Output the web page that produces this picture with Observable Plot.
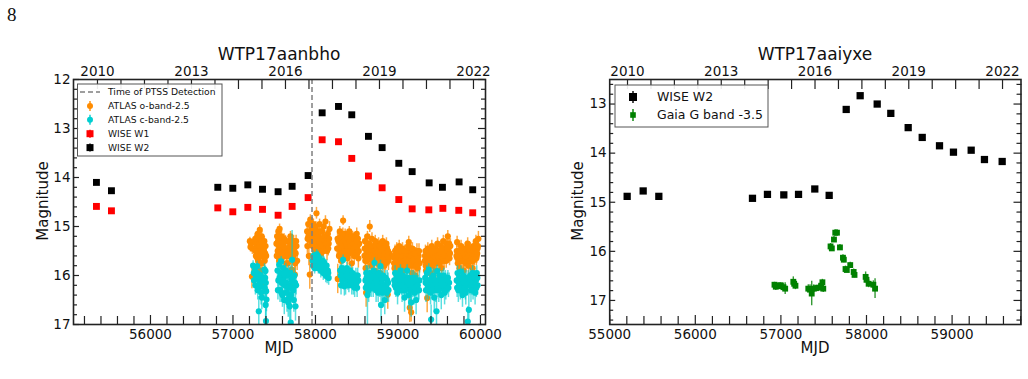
<!DOCTYPE html>
<html><head><meta charset="utf-8">
<script src="https://cdn.jsdelivr.net/npm/d3@7"></script>
<script src="https://cdn.jsdelivr.net/npm/@observablehq/plot@0.6"></script>
<style>
body{margin:0;background:#fff;}
#wrap{display:flex;width:1028px;height:379px;overflow:hidden;}
#wrap svg{overflow:visible;display:block;}
</style></head><body><div id="wrap"></div>
<script>
// ---------------- DATA ----------------
// Left panel: WTP17aanbho   [MJD, magnitude, error]
const ptssDetection = [57958];
const wiseW1L = [[55345,14.59],[55527,14.68],[56816,14.62],[56998,14.70],[57180,14.61],[57358,14.65],[57547,14.77],[57717,14.59],[57911,14.41],[58081,13.23],[58279,13.27],[58440,13.61],[58642,13.97],[58808,14.21],[59010,14.45],[59172,14.64],[59374,14.66],[59544,14.63],[59737,14.67],[59906,14.72]];
const wiseW2L = [[55345,14.10],[55527,14.27],[56816,14.20],[56998,14.22],[57180,14.15],[57358,14.24],[57547,14.29],[57717,14.18],[57911,13.96],[58081,12.68],[58279,12.55],[58440,12.72],[58642,13.16],[58808,13.39],[59010,13.71],[59172,13.88],[59378,14.11],[59539,14.20],[59741,14.09],[59906,14.25]];
const atlasO = [
[57205,15.30,0.08],[57212,15.42,0.10],[57220,15.35,0.08],[57230,16.02,0.25],[57235,15.45,0.12],
[57262,15.45,0.15],[57270,15.25,0.1],[57278,15.6,0.15],[57285,15.35,0.1],[57292,15.5,0.12],[57300,15.15,0.1],[57306,15.7,0.2],[57312,15.4,0.1],[57318,15.55,0.12],[57325,15.07,0.1],[57330,15.3,0.1],[57336,15.9,0.25],[57342,15.45,0.12],[57348,15.2,0.1],[57355,15.6,0.15],[57362,16.2,0.3],[57368,15.35,0.1],[57375,15.5,0.15],[57385,15.7,0.2],[57395,15.4,0.12],[57402,15.6,0.15],
[57265,15.3,0.12],[57274,15.5,0.15],[57289,15.25,0.1],[57296,15.65,0.15],[57309,15.2,0.1],[57322,15.35,0.12],[57333,15.6,0.15],[57345,15.3,0.12],[57352,15.75,0.2],[57365,15.5,0.12],[57380,15.3,0.1],[57390,15.55,0.15],
[57527,15.35,0.12],[57535,15.2,0.1],[57542,15.5,0.15],[57550,15.1,0.1],[57558,15.4,0.12],[57565,15.05,0.1],[57572,15.3,0.1],[57580,15.55,0.15],[57588,15.2,0.1],[57596,15.45,0.12],[57604,15.3,0.1],[57612,15.6,0.15],[57620,15.25,0.1],[57630,15.5,0.12],[57645,15.75,0.2],[57660,15.45,0.12],[57672,15.3,0.1],[57685,15.6,0.15],[57697,15.2,0.1],[57705,15.5,0.15],[57712,15.88,0.2],[57720,15.35,0.12],[57730,15.65,0.15],[57740,15.45,0.12],[57750,15.98,0.25],[57760,15.55,0.15],[57770,15.4,0.12],[57778,15.7,0.2],[57725,16.22,0.3],
[57531,15.6,0.15],[57546,15.3,0.12],[57561,15.7,0.15],[57576,15.4,0.12],[57592,15.65,0.15],[57616,15.4,0.12],[57637,15.3,0.12],[57652,15.6,0.15],[57666,15.75,0.15],[57678,15.5,0.12],[57692,15.4,0.12],[57716,15.6,0.15],[57735,15.3,0.12],[57755,15.75,0.2],[57765,15.3,0.12],
[57899,15.1,0.12],[57905,15.25,0.15],[57912,14.95,0.1],[57920,15.6,0.2],[57925,15.15,0.12],[57931,15.98,0.3],[57938,14.86,0.1],[57945,15.3,0.15],[57955,15.05,0.12],[57965,15.4,0.15],[57975,14.95,0.1],[57985,15.2,0.12],[57995,15.5,0.15],[58005,15.0,0.1],[58012,14.73,0.12],[58020,15.3,0.15],[58030,15.1,0.12],[58040,15.45,0.15],[58050,14.95,0.1],[58060,15.25,0.12],[58070,15.55,0.2],[58080,15.1,0.12],[58090,15.35,0.15],[58100,15.0,0.1],[58110,15.4,0.15],[58121,14.9,0.12],[58130,15.2,0.12],[58140,15.5,0.2],[58150,15.15,0.12],[58160,15.35,0.15],[58170,15.05,0.15],
[57902,15.4,0.15],[57915,15.2,0.12],[57950,15.15,0.12],[57960,15.25,0.12],[57970,15.1,0.12],[57980,15.35,0.12],[57990,15.05,0.12],[58000,15.25,0.12],[58015,15.15,0.12],[58025,15.4,0.15],[58035,15.2,0.12],[58045,15.3,0.12],[58055,15.1,0.12],[58065,15.4,0.15],[58085,15.25,0.12],[58095,15.5,0.15],[58105,15.2,0.12],[58115,15.3,0.12],[58135,15.35,0.12],[58145,15.25,0.12],[58155,15.45,0.15],[58165,15.25,0.12],
[58263,15.45,0.15],[58270,16.07,0.3],[58278,15.3,0.12],[58285,15.6,0.15],[58295,15.1,0.1],[58303,15.35,0.12],[58312,15.7,0.2],[58320,15.2,0.1],[58328,15.5,0.15],[58335,14.88,0.1],[58342,15.3,0.12],[58350,15.6,0.15],[58360,15.15,0.1],[58370,15.45,0.12],[58380,15.25,0.1],[58390,15.65,0.15],[58400,15.35,0.12],[58410,15.1,0.1],[58420,15.5,0.15],[58430,15.3,0.12],[58440,15.75,0.2],[58450,15.2,0.1],[58460,15.45,0.12],[58470,15.6,0.15],[58480,15.3,0.12],[58490,15.5,0.15],[58500,15.15,0.12],[58510,15.4,0.12],[58520,15.65,0.2],[58530,15.35,0.15],
[58268,15.25,0.12],[58282,15.45,0.12],[58290,15.3,0.12],[58300,15.55,0.15],[58308,15.2,0.12],[58316,15.45,0.12],[58324,15.35,0.12],[58332,15.15,0.12],[58346,15.5,0.12],[58355,15.3,0.12],[58365,15.55,0.15],[58375,15.35,0.12],[58385,15.5,0.12],[58395,15.2,0.12],[58405,15.55,0.15],[58415,15.3,0.12],[58425,15.4,0.12],[58435,15.2,0.12],[58445,15.5,0.15],[58455,15.35,0.12],[58465,15.25,0.12],[58475,15.5,0.15],[58485,15.4,0.12],[58495,15.3,0.12],[58505,15.55,0.15],[58515,15.25,0.12],[58525,15.5,0.15],
[58594,15.6,0.15],[58600,15.3,0.12],[58608,15.85,0.2],[58614,16.35,0.3],[58622,15.45,0.12],[58630,15.2,0.1],[58640,15.65,0.15],[58650,15.35,0.12],[58658,15.0,0.12],[58665,15.5,0.15],[58675,15.8,0.2],[58685,15.25,0.12],[58695,15.55,0.15],[58705,15.4,0.12],[58715,15.9,0.2],[58725,15.3,0.12],[58735,15.6,0.15],[58745,15.45,0.12],[58755,15.75,0.2],[58765,15.35,0.12],[58775,15.55,0.15],[58785,15.95,0.25],[58795,15.4,0.12],[58805,15.65,0.15],[58815,15.3,0.12],[58825,15.5,0.15],[58835,15.8,0.2],[58845,15.4,0.12],[58855,15.6,0.15],[58865,15.45,0.15],[58876,16.39,0.3],[58885,15.7,0.2],[58895,15.55,0.15],
[58597,15.45,0.12],[58604,15.7,0.15],[58618,15.55,0.15],[58626,15.7,0.15],[58635,15.4,0.12],[58645,15.5,0.15],[58655,15.6,0.15],[58670,15.4,0.12],[58680,15.6,0.15],[58690,15.7,0.15],[58700,15.5,0.12],[58710,15.65,0.15],[58720,15.5,0.12],[58730,15.4,0.12],[58740,15.7,0.15],[58750,15.55,0.12],[58760,15.5,0.15],[58770,15.7,0.15],[58780,15.4,0.12],[58790,15.6,0.15],[58800,15.5,0.12],[58810,15.75,0.15],[58820,15.45,0.12],[58830,15.65,0.15],[58840,15.55,0.12],[58850,15.75,0.15],[58860,15.35,0.12],[58870,15.6,0.15],[58880,15.5,0.15],[58890,15.65,0.15],
[58950,15.6,0.15],[58958,15.85,0.2],[58965,15.5,0.12],[58975,15.75,0.15],[58985,15.45,0.12],[58995,15.95,0.2],[59005,15.6,0.15],[59015,15.4,0.12],[59025,15.8,0.2],[59035,15.55,0.15],[59045,15.7,0.15],[59055,15.45,0.12],[59065,15.9,0.2],[59075,15.6,0.15],[59085,15.75,0.15],[59095,15.5,0.12],[59105,15.85,0.2],[59115,15.65,0.15],[59125,15.4,0.12],[59131,15.32,0.12],[59143,16.66,0.3],[59160,16.75,0.2],[59150,15.7,0.15],[59160,15.5,0.12],[59170,15.95,0.2],[59180,15.6,0.15],[59190,15.8,0.15],[59200,15.55,0.12],[59210,16.0,0.25],[59220,15.7,0.15],[59230,15.5,0.15],[59240,15.85,0.2],[59250,15.6,0.15],[59262,15.75,0.2],
[58953,15.75,0.15],[58961,15.65,0.15],[58970,15.6,0.15],[58980,15.7,0.15],[58990,15.55,0.12],[59000,15.75,0.15],[59010,15.5,0.12],[59020,15.65,0.15],[59030,15.7,0.15],[59040,15.6,0.12],[59050,15.8,0.15],[59060,15.6,0.12],[59070,15.7,0.15],[59080,15.5,0.12],[59090,15.7,0.15],[59100,15.6,0.12],[59110,15.75,0.15],[59120,15.55,0.12],[59135,15.6,0.15],[59145,15.8,0.15],[59155,15.6,0.12],[59165,15.75,0.15],[59175,15.45,0.12],[59185,15.7,0.15],[59195,15.65,0.12],[59205,15.75,0.15],[59215,15.55,0.12],[59225,15.8,0.15],[59235,15.65,0.12],[59245,15.7,0.15],[59255,15.5,0.15],
[59325,15.7,0.15],[59333,15.5,0.12],[59340,15.9,0.2],[59348,15.6,0.15],[59354,16.46,0.3],[59362,15.45,0.12],[59370,15.75,0.15],[59380,15.55,0.12],[59390,15.95,0.2],[59400,15.6,0.15],[59410,15.4,0.12],[59420,15.8,0.2],[59430,15.55,0.15],[59440,15.7,0.15],[59450,15.45,0.12],[59460,15.9,0.2],[59470,15.6,0.15],[59480,15.35,0.12],[59490,15.75,0.15],[59500,15.5,0.12],[59510,15.65,0.15],[59520,15.4,0.12],[59530,15.85,0.2],[59540,15.55,0.15],[59550,15.3,0.12],[59560,15.7,0.15],[59570,15.45,0.12],[59580,15.6,0.15],[59590,15.35,0.12],[59604,15.2,0.12],[59615,15.5,0.15],[59625,15.65,0.15],[59635,15.4,0.15],
[59328,15.6,0.15],[59336,15.8,0.15],[59344,15.7,0.15],[59358,15.65,0.15],[59366,15.6,0.12],[59375,15.7,0.15],[59385,15.65,0.12],[59395,15.75,0.15],[59405,15.5,0.12],[59415,15.65,0.15],[59425,15.7,0.15],[59435,15.6,0.12],[59445,15.75,0.15],[59455,15.55,0.12],[59465,15.7,0.15],[59475,15.5,0.12],[59485,15.6,0.15],[59495,15.65,0.12],[59505,15.75,0.15],[59515,15.55,0.12],[59525,15.7,0.15],[59535,15.45,0.12],[59545,15.65,0.15],[59555,15.55,0.12],[59565,15.6,0.15],[59575,15.5,0.12],[59585,15.7,0.15],[59597,15.45,0.12],[59610,15.6,0.15],[59620,15.35,0.12],[59630,15.55,0.15],
[59709,15.6,0.15],[59717,15.32,0.12],[59725,15.75,0.15],[59735,15.5,0.12],[59745,15.85,0.2],[59755,15.6,0.15],[59765,15.4,0.12],[59775,15.7,0.15],[59785,15.5,0.12],[59795,15.9,0.2],[59805,15.65,0.15],[59815,15.45,0.12],[59825,15.75,0.15],[59835,15.55,0.12],[59845,15.35,0.12],[59855,15.8,0.2],[59865,15.6,0.15],[59875,15.45,0.12],[59885,15.7,0.15],[59895,15.5,0.12],[59905,15.85,0.2],[59915,15.4,0.12],[59925,15.65,0.15],[59935,15.5,0.15],[59945,15.3,0.12],[59955,15.6,0.15],[59965,15.45,0.15],[59975,15.25,0.15],
[59713,15.5,0.15],[59720,15.65,0.15],[59730,15.6,0.12],[59740,15.7,0.15],[59750,15.5,0.12],[59760,15.7,0.15],[59770,15.55,0.12],[59780,15.6,0.15],[59790,15.7,0.15],[59800,15.55,0.12],[59810,15.7,0.15],[59820,15.6,0.12],[59830,15.45,0.15],[59840,15.65,0.12],[59850,15.55,0.15],[59860,15.7,0.15],[59870,15.5,0.12],[59880,15.6,0.15],[59890,15.65,0.12],[59900,15.55,0.15],[59910,15.7,0.15],[59920,15.5,0.12],[59930,15.6,0.15],[59940,15.45,0.12],[59950,15.65,0.15],[59960,15.55,0.12],[59970,15.4,0.15]
];
const atlasC = [
[57244,15.80,0.1],[57252,15.95,0.12],[57265,15.90,0.1],[57280,16.0,0.15],[57293,15.81,0.1],[57305,16.05,0.15],[57313,16.73,0.3],[57321,15.98,0.12],[57333,16.22,0.2],[57341,16.35,0.25],[57360,16.1,0.2],[57382,15.88,0.12],[57390,16.05,0.15],[57394,15.91,0.1],[57398,16.15,0.2],[57402,16.32,0.2],[57406,16.49,0.25],[57400,16.93,0.35],
[57256,16.1,0.15],[57272,16.2,0.2],[57287,15.95,0.15],[57300,16.3,0.2],[57326,16.15,0.2],[57338,16.0,0.15],[57350,16.45,0.25],[57386,16.25,0.2],[57396,16.6,0.3],
[57540,15.9,0.15],[57550,16.1,0.2],[57560,15.78,0.12],[57570,16.3,0.25],[57578,15.95,0.15],[57584,15.71,0.1],[57592,16.15,0.2],[57600,16.4,0.25],[57608,15.85,0.12],[57615,16.05,0.15],[57622,16.5,0.3],[57630,16.2,0.2],[57640,15.9,0.15],[57650,16.35,0.25],[57660,16.0,0.15],[57670,16.55,0.3],[57680,16.2,0.2],[57688,16.63,0.3],[57695,15.95,0.15],[57700,16.4,0.25],[57710,16.1,0.2],[57717,15.68,0.6],[57730,16.3,0.25],[57745,16.0,0.15],[57758,16.63,0.3],[57765,16.2,0.2],[57700,16.96,0.3],
[57545,16.3,0.2],[57565,16.05,0.15],[57588,16.35,0.2],[57604,16.1,0.15],[57626,15.95,0.15],[57645,16.15,0.2],[57655,16.5,0.25],[57665,16.25,0.2],[57675,15.95,0.15],[57684,16.45,0.25],[57705,16.25,0.2],[57722,16.05,0.15],[57738,16.5,0.25],[57752,16.15,0.2],
[57965,15.7,0.1],[57975,15.6,0.1],[57985,15.75,0.12],[57995,15.65,0.1],[58005,15.8,0.12],[58015,15.57,0.1],[58025,15.7,0.1],[58035,15.85,0.12],[58045,15.65,0.1],[58055,15.75,0.12],[58065,15.9,0.15],[58075,15.7,0.1],[58085,15.8,0.12],[58095,15.95,0.15],[58105,15.74,0.12],[58115,15.85,0.12],[58125,16.0,0.15],[58135,15.8,0.12],[58141,16.02,0.15],[58150,15.9,0.12],[58160,16.05,0.15],
[57970,15.8,0.1],[57990,15.85,0.12],[58010,15.7,0.1],[58030,15.6,0.1],[58050,15.85,0.12],[58070,15.8,0.12],[58090,15.7,0.1],[58110,15.95,0.12],[58130,15.9,0.12],[58155,15.95,0.12],
[58300,15.9,0.12],[58310,16.2,0.2],[58320,15.85,0.12],[58330,16.0,0.15],[58335,15.68,0.1],[58343,15.91,0.12],[58350,16.22,0.2],[58360,15.95,0.12],[58370,16.05,0.15],[58380,15.85,0.12],[58390,16.15,0.15],[58400,15.95,0.12],[58410,16.1,0.15],[58420,15.9,0.12],[58430,16.0,0.15],[58440,16.2,0.2],[58450,15.95,0.12],[58465,16.08,0.15],[58475,16.25,0.2],[58490,16.0,0.15],[58505,16.25,0.2],[58520,16.1,0.15],
[58305,16.0,0.15],[58325,16.1,0.15],[58345,16.05,0.15],[58365,16.2,0.2],[58385,16.0,0.15],[58405,16.2,0.15],[58425,16.1,0.15],[58445,16.05,0.15],[58460,16.2,0.2],[58480,16.1,0.15],[58498,16.15,0.2],[58512,16.0,0.15],
[58606,16.1,0.2],[58615,15.95,0.15],[58625,16.2,0.2],[58630,16.4,0.6],[58635,16.0,0.15],[58645,16.3,0.25],[58655,15.95,0.15],[58665,16.1,0.2],[58675,16.25,0.2],[58685,16.0,0.15],[58695,16.15,0.2],[58705,15.9,0.15],[58715,15.74,0.1],[58725,16.05,0.15],[58735,16.3,0.25],[58745,16.0,0.15],[58755,16.2,0.2],[58765,15.95,0.15],[58775,16.1,0.2],[58788,15.81,0.12],[58795,16.6,0.35],[58800,16.15,0.2],[58810,16.35,0.25],[58820,16.0,0.15],[58830,16.2,0.2],[58840,16.5,0.3],[58850,16.05,0.15],[58860,16.25,0.2],[58870,16.1,0.2],[58885,16.3,0.25],
[58610,16.25,0.2],[58620,16.05,0.15],[58640,16.15,0.2],[58660,16.2,0.2],[58680,16.1,0.15],[58700,16.25,0.2],[58720,16.15,0.2],[58740,16.1,0.15],[58760,16.35,0.2],[58780,16.25,0.2],[58805,16.05,0.15],[58825,16.3,0.2],[58845,16.2,0.2],[58865,16.35,0.2],[58880,16.15,0.2],
[58955,16.1,0.2],[58965,15.95,0.15],[58975,16.25,0.2],[58985,16.05,0.15],[58995,16.35,0.25],[59005,16.0,0.15],[59015,16.2,0.2],[59030,15.9,0.12],[59040,16.1,0.2],[59050,16.3,0.25],[59060,16.0,0.15],[59070,16.2,0.2],[59080,16.45,0.3],[59090,16.05,0.15],[59100,16.25,0.2],[59111,15.9,0.12],[59120,16.15,0.2],[59130,16.4,0.3],[59140,16.05,0.15],[59150,16.3,0.25],[59160,16.55,0.3],[59170,16.1,0.2],[59180,16.25,0.2],[59190,16.05,0.15],[59200,16.35,0.25],[59210,16.15,0.2],[59220,16.5,0.3],[59230,16.2,0.2],[59245,16.3,0.25],[59260,16.1,0.2],
[58960,16.2,0.2],[58980,16.15,0.15],[59000,16.25,0.2],[59020,16.1,0.15],[59045,16.2,0.2],[59065,16.1,0.15],[59085,16.3,0.2],[59105,16.1,0.15],[59125,16.25,0.2],[59145,16.2,0.2],[59165,16.3,0.2],[59185,16.15,0.15],[59205,16.25,0.2],[59225,16.1,0.15],[59240,16.2,0.2],[59255,16.3,0.2],
[59330,16.05,0.15],[59340,16.3,0.25],[59350,15.95,0.15],[59360,16.2,0.2],[59374,15.88,0.12],[59385,16.1,0.2],[59395,16.35,0.25],[59402,16.9,0.3],[59410,16.05,0.15],[59420,16.25,0.2],[59430,16.0,0.15],[59440,16.45,0.3],[59450,16.15,0.2],[59460,16.3,0.25],[59467,16.73,0.3],[59475,15.91,0.12],[59485,16.1,0.2],[59495,16.3,0.25],[59505,16.0,0.15],[59515,16.2,0.2],[59525,16.4,0.3],[59535,16.05,0.15],[59545,16.25,0.2],[59555,16.0,0.15],[59565,16.35,0.25],[59575,16.1,0.2],[59590,16.2,0.2],[59605,16.05,0.15],[59620,16.15,0.2],
[59335,16.15,0.2],[59355,16.1,0.15],[59368,16.3,0.2],[59380,16.2,0.15],[59400,16.15,0.2],[59415,16.3,0.2],[59435,16.2,0.2],[59455,16.1,0.15],[59480,16.25,0.2],[59500,16.15,0.15],[59520,16.1,0.15],[59540,16.2,0.2],[59560,16.15,0.15],[59580,16.3,0.2],[59598,16.1,0.15],[59612,16.25,0.2],
[59712,16.1,0.15],[59722,15.95,0.15],[59732,16.3,0.25],[59742,16.05,0.15],[59752,16.2,0.2],[59762,15.92,0.12],[59772,16.15,0.2],[59782,16.4,0.25],[59792,16.0,0.15],[59802,16.25,0.2],[59812,16.05,0.15],[59822,16.35,0.25],[59832,16.1,0.2],[59846,16.94,0.3],[59859,16.7,0.3],[59865,16.2,0.2],[59875,16.0,0.15],[59885,16.3,0.25],[59895,16.1,0.2],[59905,15.95,0.15],[59915,16.2,0.2],[59925,16.05,0.15],[59935,16.35,0.25],[59945,16.1,0.2],[59955,15.95,0.15],[59965,16.2,0.2],
[59717,16.25,0.2],[59737,16.15,0.15],[59757,16.3,0.2],[59777,16.05,0.15],[59797,16.15,0.2],[59817,16.3,0.2],[59837,16.2,0.15],[59855,16.05,0.15],[59870,16.15,0.2],[59890,16.2,0.2],[59910,16.3,0.2],[59930,16.15,0.15],[59950,16.25,0.2],[59962,16.05,0.15]
];

// Right panel: WTP17aaiyxe
const wiseW2R = [[55204,14.88],[55391,14.77],[55574,14.88],[56668,14.92],[56843,14.84],[57034,14.85],[57206,14.84],[57396,14.73],[57564,14.86],[57763,13.11],[57926,12.83],[58125,13.00],[58284,13.19],[58487,13.48],[58651,13.68],[58853,13.85],[59016,13.98],[59223,13.94],[59378,14.13],[59585,14.17]];
const gaiaG = [[56925,16.68,0.05],[56940,16.72,0.08],[56955,16.70,0.05],[56980,16.71,0.06],[56995,16.69,0.05],[57030,16.73,0.08],[57050,16.76,0.12],[57145,16.62,0.1],[57155,16.66,0.06],[57170,16.70,0.08],[57320,16.76,0.08],[57340,16.78,0.1],[57360,16.86,0.25],[57385,16.76,0.08],[57410,16.75,0.06],[57440,16.74,0.06],[57470,16.70,0.08],[57485,16.63,0.06],[57495,16.76,0.08],[57580,15.90,0.06],[57595,15.94,0.06],[57620,15.76,0.06],[57635,15.62,0.06],[57655,15.62,0.06],[57690,15.92,0.06],[57725,16.13,0.06],[57735,16.17,0.06],[57755,16.36,0.06],[57770,16.38,0.05],[57810,16.28,0.06],[57850,16.42,0.06],[57860,16.48,0.06],[57990,16.52,0.1],[58000,16.58,0.08],[58025,16.66,0.08],[58080,16.68,0.08],[58100,16.76,0.2]];

// Axis tick labels
const yearLabels = [2010, 2013, 2016, 2019, 2022];
const mjdLabelsL = [56000, 57000, 58000, 59000, 60000];
const mjdLabelsR = [55000, 56000, 57000, 58000, 59000];
const magLabelsL = [12, 13, 14, 15, 16, 17];
const magLabelsR = [13, 14, 15, 16, 17];

// ---------------- DRAWING ----------------
const FONT = "DejaVu Sans, sans-serif";
const INK = "#222";
const C_O = "#ff8c00", C_C = "#00ced1";

function errBars(data, color, opacity, width) {
  return Plot.ruleX(data, {x: d => d[0], y1: d => d[1] - d[2], y2: d => d[1] + d[2], stroke: color, strokeOpacity: opacity, strokeWidth: width, clip: true});
}

function axes(cfg) {
  const minorX = d3.range(cfg.xMinor[0], cfg.xMinor[1] + 1, 200).filter(v => !cfg.mjdLabels.includes(v));
  const minorY = d3.range(cfg.yMinor[0], cfg.yMinor[1] + 0.001, 0.2).map(v => +v.toFixed(1)).filter(v => !cfg.magLabels.includes(v));
  const topTicks = d3.range(yearLabels[0], yearLabels[yearLabels.length - 1] + 0.01, 0.75);
  const topMap = cfg.yearToMjd;
  const fmtTop = d => { const y = Math.round(((d - topMap(0)) / (topMap(1) - topMap(0))) * 100) / 100; return yearLabels.includes(y) ? String(y) : ""; };
  return [
    Plot.axisX(cfg.mjdLabels, {anchor: "bottom", tickSize: -9, tickPadding: 14, tickFormat: d => String(d), stroke: INK, strokeWidth: 1.2, fontSize: 13.5, fill: "#111", label: null}),
    Plot.axisX(minorX, {anchor: "bottom", tickSize: -8, tickFormat: () => "", stroke: INK, strokeWidth: 1.2, label: null}),
    Plot.axisX(topTicks.map(topMap), {anchor: "top", tickSize: -9, tickPadding: 13, tickFormat: fmtTop, stroke: INK, strokeWidth: 1.2, fontSize: 13.5, fill: "#111", label: null}),
    Plot.axisY(cfg.magLabels, {anchor: "left", tickSize: -6, tickPadding: 9, tickFormat: d => String(d), stroke: INK, strokeWidth: 1.2, fontSize: 13.5, fill: "#111", label: null}),
    Plot.axisY(minorY, {anchor: "left", tickSize: -4, tickFormat: () => "", stroke: INK, strokeWidth: 1.2, label: null}),
    Plot.axisY(cfg.magLabels, {anchor: "right", tickSize: -8, tickFormat: () => "", stroke: INK, strokeWidth: 1.2, label: null}),
    Plot.axisY(minorY, {anchor: "right", tickSize: -5, tickFormat: () => "", stroke: INK, strokeWidth: 1.2, label: null}),
    Plot.frame({stroke: INK, strokeWidth: 1.6})
  ];
}

const wrap = document.getElementById("wrap");

// Left
const yearToMjdL = y => 55357.6 + (y - 2010) * 379.8;
const left = Plot.plot({
  width: 520, height: 379,
  marginLeft: 73, marginRight: 35, marginTop: 79, marginBottom: 55,
  style: {fontFamily: FONT, fontSize: "13.5px", color: "#000", background: "white", overflow: "visible"},
  x: {domain: [55067, 60061], label: null},
  y: {domain: [12, 17], reverse: true, label: null},
  marks: [
    errBars(atlasO, C_O, 0.75, 1.5),
    Plot.dot(atlasO, {x: d => d[0], y: d => d[1], r: 3.1, fill: C_O, clip: true}),
    errBars(atlasC, C_C, 0.65, 1.5),
    Plot.dot(atlasC, {x: d => d[0], y: d => d[1], r: 3.1, fill: C_C, clip: true}),
    Plot.dot(wiseW1L, {x: d => d[0], y: d => d[1], symbol: "square", r: 3.9, fill: "#ff0000"}),
    Plot.dot(wiseW2L, {x: d => d[0], y: d => d[1], symbol: "square", r: 3.9, fill: "#000"}),
    Plot.ruleX(ptssDetection, {stroke: "#7f7f7f", strokeWidth: 1.5, strokeDasharray: "5,3"}),
    ...axes({xMinor: [55200, 60000], yMinor: [12.2, 16.8], mjdLabels: mjdLabelsL, magLabels: magLabelsL, yearToMjd: yearToMjdL})
  ]
});

// Right
const yearToMjdR = y => 55208 + (y - 2010) * 365.1;
const right = Plot.plot({
  width: 508, height: 379,
  marginLeft: 89.2, marginRight: 7.5, marginTop: 79, marginBottom: 55,
  style: {fontFamily: FONT, fontSize: "13.5px", color: "#000", background: "white", overflow: "visible"},
  x: {domain: [55000, 59805], label: null},
  y: {domain: [12.5, 17.49], reverse: true, label: null},
  marks: [
    Plot.dot(wiseW2R, {x: d => d[0], y: d => d[1], symbol: "square", r: 4.1, fill: "#000"}),
    errBars(gaiaG, "#008000", 0.8, 1.4),
    Plot.dot(gaiaG, {x: d => d[0], y: d => d[1], symbol: "square", r: 3.3, fill: "#008000"}),
    ...axes({xMinor: [55200, 59800], yMinor: [12.6, 17.4], mjdLabels: mjdLabelsR, magLabels: magLabelsR, yearToMjd: yearToMjdR})
  ]
});

wrap.appendChild(left);
wrap.appendChild(right);

// Titles, axis labels, legends
function decorate(svg, cfg) {
  const s = d3.select(svg);
  const g = s.append("g").attr("font-family", FONT).attr("fill", "#111").attr("text-anchor", "middle");
  g.append("text").attr("x", cfg.cx).attr("y", 60).attr("font-size", 17).text(cfg.title);
  g.append("text").attr("x", cfg.cx).attr("y", 353).attr("font-size", 15).text("MJD");
  g.append("text").attr("transform", `translate(${cfg.ylx},201) rotate(-90)`).attr("font-size", 15).text("Magnitude");
  const L = cfg.legend;
  const lg = s.append("g").attr("font-family", FONT).attr("text-anchor", "start");
  lg.append("rect").attr("x", L.x).attr("y", L.y).attr("width", L.w).attr("height", L.h).attr("fill", "white").attr("fill-opacity", 0.9).attr("stroke", "#555").attr("stroke-width", 1);
  L.items.forEach((it, i) => {
    const cy = L.y0 + i * L.dy, mx = L.mx;
    if (it.kind === "dash") {
      lg.append("line").attr("x1", mx - 10).attr("x2", mx + 10).attr("y1", cy).attr("y2", cy).attr("stroke", "#7f7f7f").attr("stroke-width", 1.5).attr("stroke-dasharray", "5,3");
    } else {
      lg.append("line").attr("x1", mx).attr("x2", mx).attr("y1", cy - it.bar).attr("y2", cy + it.bar).attr("stroke", it.color).attr("stroke-width", 1.4);
      if (it.kind === "circle") lg.append("circle").attr("cx", mx).attr("cy", cy).attr("r", it.size).attr("fill", it.color);
      else lg.append("rect").attr("x", mx - it.size).attr("y", cy - it.size).attr("width", 2 * it.size).attr("height", 2 * it.size).attr("fill", it.color);
    }
    lg.append("text").attr("x", L.tx).attr("y", cy).attr("dy", "0.35em").attr("text-anchor", "start").attr("font-size", L.fs).attr("fill", "#111").text(it.label);
  });
}

decorate(left, {
  title: "WTP17aanbho", cx: 279, ylx: 48,
  legend: {x: 77.5, y: 84, w: 144.5, h: 72, y0: 92, dy: 13.9, mx: 90, tx: 108, fs: 9.2,
    items: [
      {kind: "dash", label: "Time of PTSS Detection"},
      {kind: "circle", color: C_O, size: 3, bar: 5, label: "ATLAS o-band-2.5"},
      {kind: "circle", color: C_C, size: 3, bar: 5, label: "ATLAS c-band-2.5"},
      {kind: "square", color: "#ff0000", size: 3.5, bar: 4, label: "WISE W1"},
      {kind: "square", color: "#000", size: 3.5, bar: 4, label: "WISE W2"}
    ]}
});
decorate(right, {
  title: "WTP17aaiyxe", cx: 295, ylx: 63,
  legend: {x: 95, y: 85, w: 153, h: 42, y0: 97, dy: 18, mx: 113, tx: 137, fs: 12.5,
    items: [
      {kind: "square", color: "#000", size: 4, bar: 6, label: "WISE W2"},
      {kind: "square", color: "#008000", size: 2.8, bar: 6, label: "Gaia G band -3.5"}
    ]}
});
d3.select(left).append("text").attr("x", 7).attr("y", 21).attr("text-anchor", "start").attr("font-family", "Liberation Serif, serif").attr("font-size", 19).attr("fill", "#111").text("8");
</script>
</body></html>
